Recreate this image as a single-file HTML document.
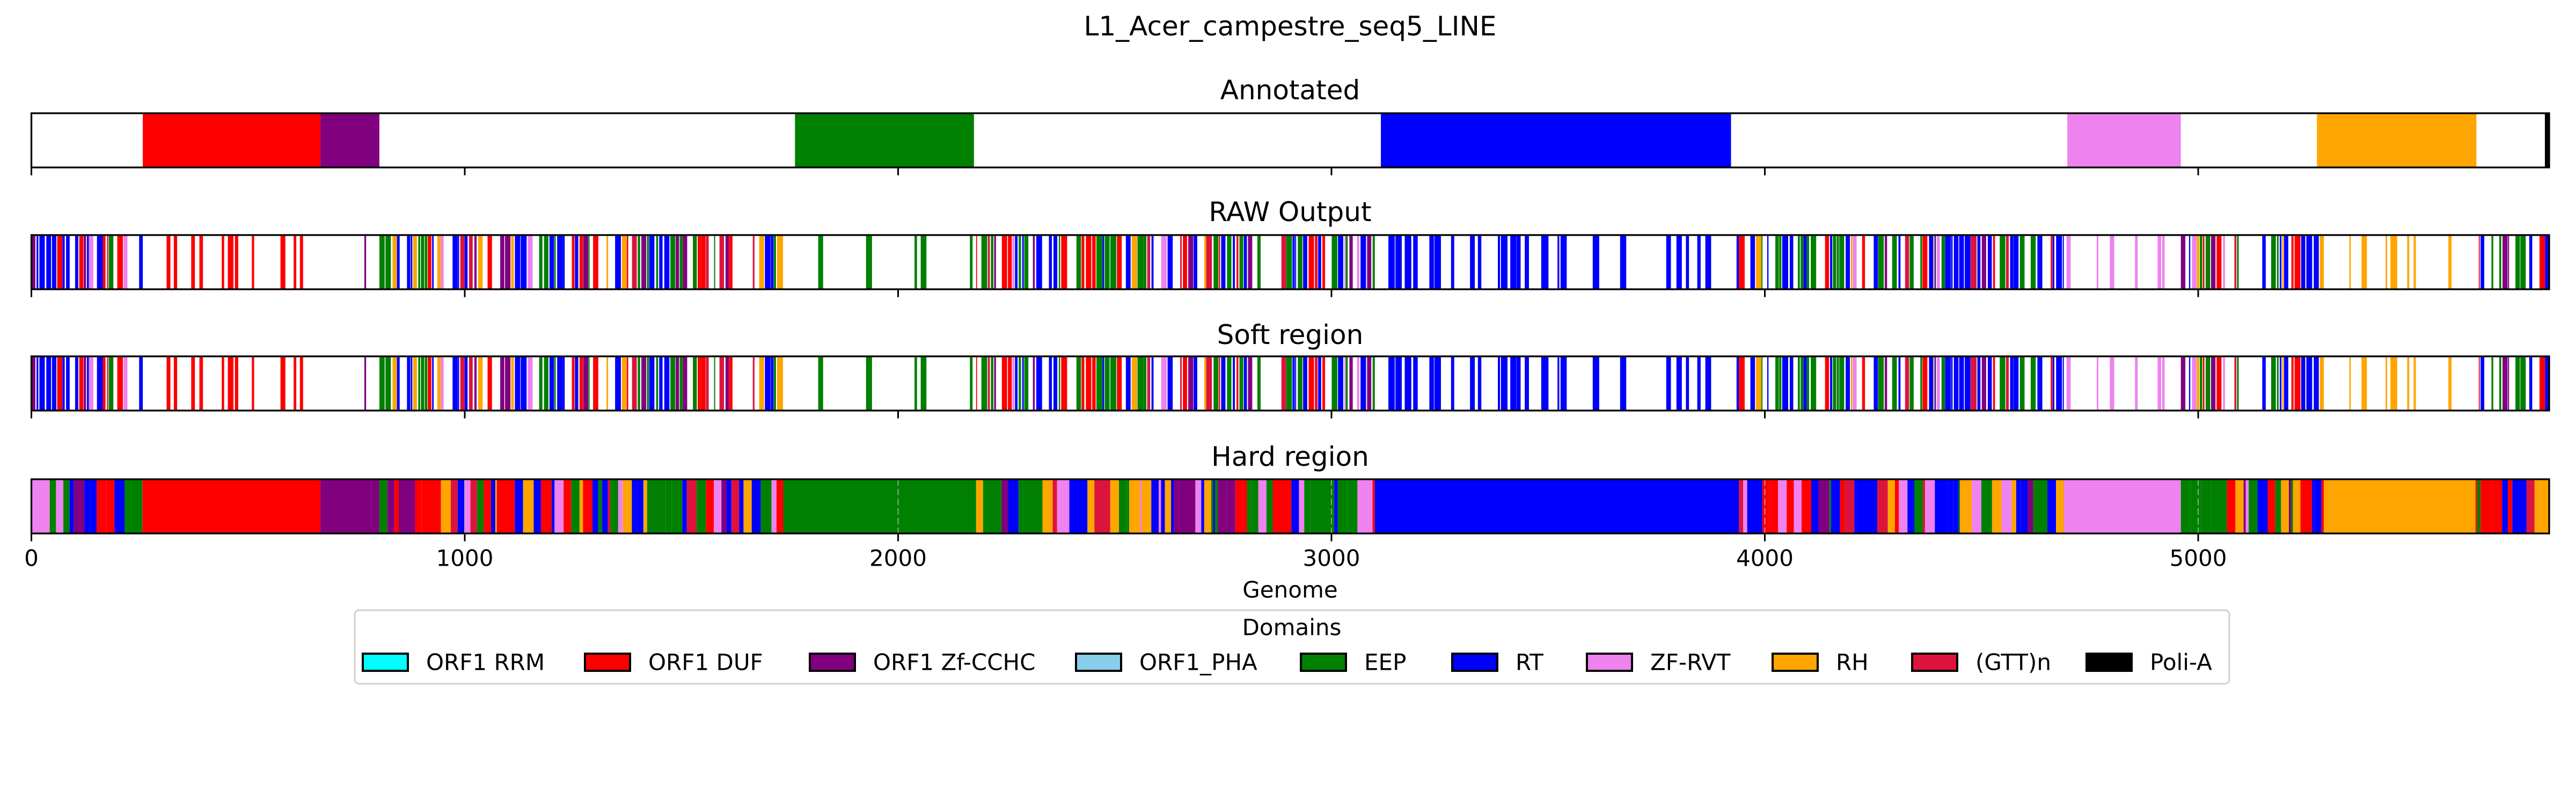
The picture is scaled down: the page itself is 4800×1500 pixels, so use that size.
<!DOCTYPE html>
<html><head><meta charset="utf-8"><style>
html,body{margin:0;padding:0;background:#fff;width:4800px;height:1500px;overflow:hidden}
text{font-family:"DejaVu Sans","Liberation Sans",sans-serif;fill:#000}
</style></head><body>
<svg id="s" xmlns="http://www.w3.org/2000/svg" width="4800" height="1500" viewBox="0 0 4800 1500">
<rect width="4800" height="1500" fill="#fff"/>
<text x="2404" y="49" font-size="50" text-anchor="middle" dominant-baseline="central">L1_Acer_campestre_seq5_LINE</text>
<text x="2404" y="168" font-size="50" text-anchor="middle" dominant-baseline="central">Annotated</text>
<text x="2404" y="395" font-size="50" text-anchor="middle" dominant-baseline="central">RAW Output</text>
<text x="2404" y="624" font-size="50" text-anchor="middle" dominant-baseline="central">Soft region</text>
<text x="2404" y="851" font-size="50" text-anchor="middle" dominant-baseline="central">Hard region</text>
<g id="bars"></g>
<g id="axes"></g>
<g font-size="42" text-anchor="middle">
<text x="58.5" y="1040" dominant-baseline="central">0</text>
<text x="866" y="1040" dominant-baseline="central">1000</text>
<text x="1673.5" y="1040" dominant-baseline="central">2000</text>
<text x="2481" y="1040" dominant-baseline="central">3000</text>
<text x="3288.5" y="1040" dominant-baseline="central">4000</text>
<text x="4096" y="1040" dominant-baseline="central">5000</text>
<text x="2404" y="1099" dominant-baseline="central">Genome</text>
</g>
<rect x="661" y="1137" width="3493" height="137" rx="8" fill="#fff" stroke="#d0d0d0" stroke-width="3"/>
<text x="2407" y="1169" font-size="42" text-anchor="middle" dominant-baseline="central">Domains</text>
<g id="leg" font-size="42"></g>
</svg>
<script>
var NS="http://www.w3.org/2000/svg";
function el(p,t,a){var e=document.createElementNS(NS,t);for(var k in a)e.setAttribute(k,a[k]);p.appendChild(e);return e;}
var X0=58.5,K=0.8075,XR=4750,L=(XR-X0)/K;
function px(g){return X0+g*K;}
var C={rrm:"#00ffff",duf:"#ff0000",zf:"#800080",pha:"#87ceeb",eep:"#008000",rt:"#0000ff",rvt:"#ee82ee",rh:"#ffa500",gtt:"#dc143c",pa:"#000000"};
var bars=document.getElementById("bars"),axes=document.getElementById("axes");
var rows=[[211,312],[438,539],[664,765],[893,994]];
function seeded(s){return function(){s|=0;s=s+0x6D2B79F5|0;var t=Math.imul(s^s>>>15,1|s);t=t+Math.imul(t^t>>>7,61|t)^t;return((t^t>>>14)>>>0)/4294967296;};}
function rect(row,g0,g1,c){var y=rows[row];el(bars,"rect",{x:px(g0),y:y[0],width:Math.max(px(g1)-px(g0),1),height:y[1]-y[0],fill:c});}
[[257,667,C.duf],[667,803,C.zf],[1762,2175,C.eep],[3114,3922,C.rt],[4698,4960,C.rvt],[5274,5642,C.rh],[5800,L,C.pa]].forEach(function(b){rect(0,b[0],b[1],b[2]);});
var mixPal=[C.rt,C.rt,C.rt,C.rt,C.eep,C.eep,C.eep,C.duf,C.duf,C.rvt,C.rh,C.zf,C.gtt];
var regs=[[0,257,"mix"],[257,667,"sp",C.duf],[667,803,"sp",C.zf],[803,1735,"mix"],[1735,2180,"sp",C.eep],[2180,3100,"mix"],[3100,3940,"sp",C.rt],[3940,4690,"mix"],[4690,4960,"sp",C.rvt],[4960,5290,"mix"],[5290,5640,"sp",C.rh],[5640,L,"mix"]];
[1,2].forEach(function(row){
 var r=seeded(42);
 regs.forEach(function(R){
  var g=R[0];
  while(g<R[1]){
   var dense=R[2]=="mix"?0.75:(R[3]==C.rt?0.5:0.3);
   var w=R[2]=="mix"?(2+r()*12):(3+r()*14);
   if(r()<dense){var c=R[2]=="mix"?mixPal[Math.floor(r()*mixPal.length)]:R[3];rect(row,g,Math.min(g+w,R[1]),c);}
   g+=w+(R[2]=="mix"?r()*4:r()*12);
  }
 });
});
(function(){
 var r=seeded(7);
 regs.forEach(function(R){
  if(R[2]=="sp"){rect(3,R[0],R[1],R[3]);return;}
  var g=R[0];
  while(g<R[1]){var w=3+r()*22;if(r()<0.15)w+=r()*40;var c=mixPal[Math.floor(r()*mixPal.length)];rect(3,g,Math.min(g+w,R[1]),c);g+=w;}
 });
 for(var t=1000;t<=5000;t+=1000)el(bars,"line",{x1:px(t),x2:px(t),y1:893,y2:994,stroke:"#b0b0b0","stroke-width":2,"stroke-dasharray":"12 6",opacity:0.8});
})();
rows.forEach(function(y){
 el(axes,"rect",{x:X0,y:y[0],width:XR-X0,height:y[1]-y[0],fill:"none",stroke:"#000","stroke-width":3.3});
 for(var t=0;t<=5000;t+=1000)el(axes,"line",{x1:px(t),x2:px(t),y1:y[1],y2:y[1]+14.6,stroke:"#000","stroke-width":3});
});
var leg=document.getElementById("leg");
[[676,C.rrm,"ORF1 RRM"],[1090,C.duf,"ORF1 DUF"],[1509,C.zf,"ORF1 Zf-CCHC"],[2005,C.pha,"ORF1_PHA"],[2424,C.eep,"EEP"],[2706,C.rt,"RT"],[2957,C.rvt,"ZF-RVT"],[3303,C.rh,"RH"],[3563,C.gtt,"(GTT)n"],[3888,C.pa,"Poli-A"]].forEach(function(e){
 el(leg,"rect",{x:e[0],y:1218,width:84,height:32,fill:e[1],stroke:"#000","stroke-width":4});
 var t=el(leg,"text",{x:e[0]+118,y:1234,"dominant-baseline":"central"});t.textContent=e[2];
});
</script>
</body></html>
